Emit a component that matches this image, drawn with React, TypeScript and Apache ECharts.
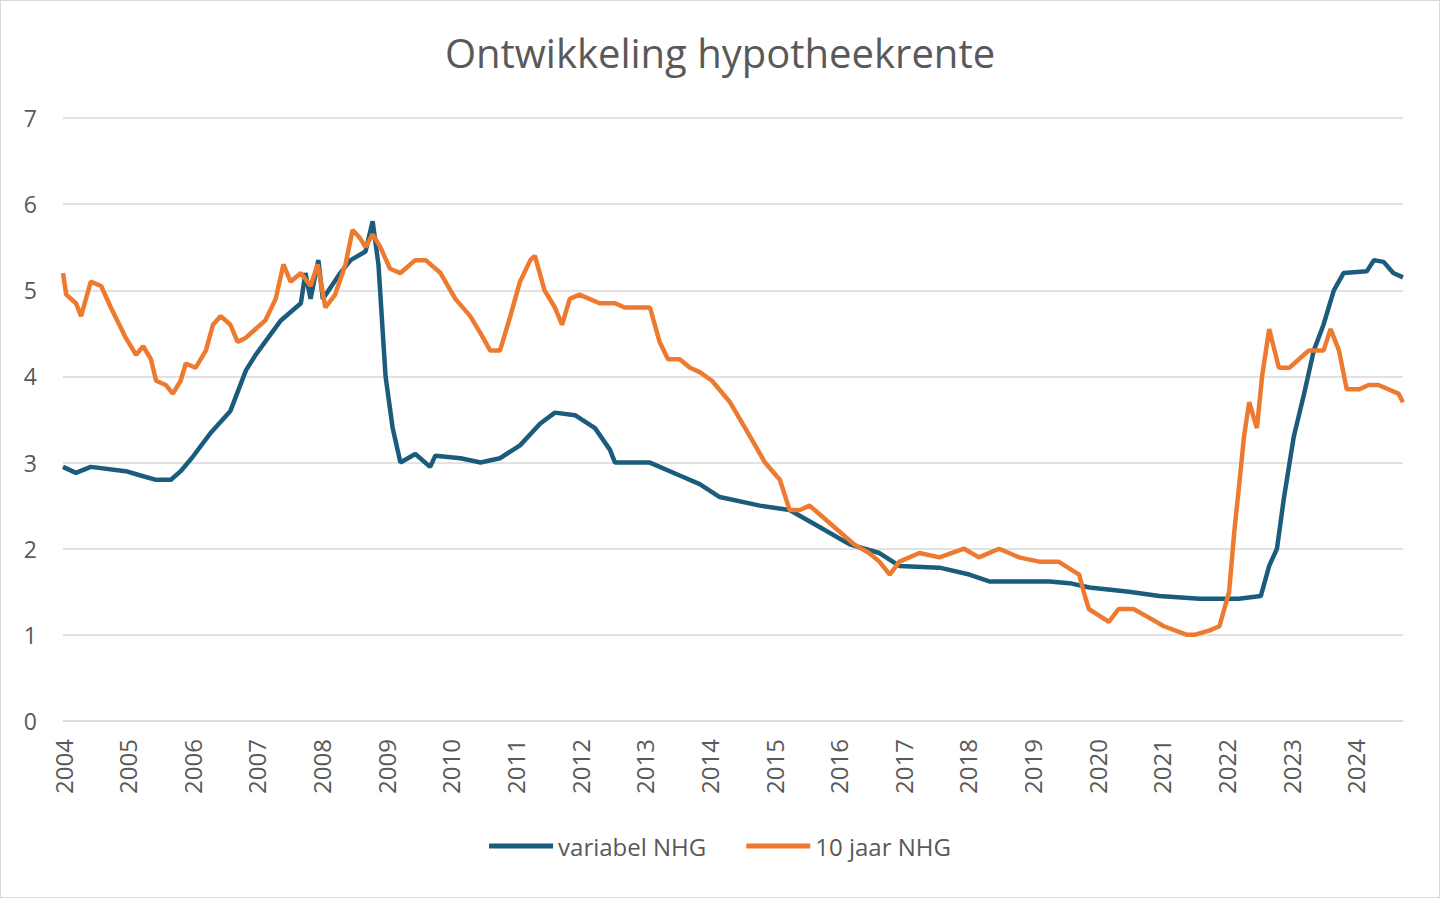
import React, { useEffect, useRef } from 'react';
import * as echarts from 'echarts';

const title = 'Ontwikkeling hypotheekrente';
const yearTicks = [2004, 2005, 2006, 2007, 2008, 2009, 2010, 2011, 2012, 2013, 2014, 2015, 2016, 2017, 2018, 2019, 2020, 2021, 2022, 2023, 2024];

const variabelYears = [2004.0, 2004.2, 2004.43, 2004.97, 2005.2, 2005.44, 2005.67, 2005.82, 2005.99, 2006.29, 2006.59, 2006.83, 2006.98, 2007.37, 2007.68, 2007.75, 2007.83, 2007.95, 2008.02, 2008.29, 2008.45, 2008.68, 2008.79, 2008.88, 2008.99, 2009.1, 2009.22, 2009.45, 2009.68, 2009.76, 2010.15, 2010.46, 2010.76, 2011.07, 2011.38, 2011.61, 2011.92, 2012.23, 2012.46, 2012.54, 2013.08, 2013.54, 2013.85, 2014.16, 2014.78, 2015.24, 2015.71, 2016.17, 2016.63, 2016.94, 2017.56, 2018.02, 2018.33, 2019.26, 2019.57, 2019.88, 2020.49, 2020.96, 2021.58, 2022.19, 2022.53, 2022.66, 2022.78, 2022.89, 2023.04, 2023.2, 2023.35, 2023.5, 2023.66, 2023.81, 2024.17, 2024.28, 2024.43, 2024.58, 2024.73];
const variabelValues = [2.95, 2.88, 2.95, 2.9, 2.85, 2.8, 2.8, 2.9, 3.05, 3.35, 3.6, 4.07, 4.25, 4.65, 4.85, 5.2, 4.9, 5.35, 4.9, 5.2, 5.35, 5.45, 5.8, 5.3, 4.0, 3.4, 3.0, 3.1, 2.95, 3.08, 3.05, 3.0, 3.05, 3.2, 3.45, 3.58, 3.55, 3.4, 3.15, 3.0, 3.0, 2.85, 2.75, 2.6, 2.5, 2.45, 2.25, 2.05, 1.95, 1.8, 1.78, 1.7, 1.62, 1.62, 1.6, 1.55, 1.5, 1.45, 1.42, 1.42, 1.45, 1.8, 2.0, 2.6, 3.3, 3.8, 4.3, 4.6, 5.0, 5.2, 5.22, 5.35, 5.33, 5.2, 5.15];

const tienJaarYears = [2004.0, 2004.05, 2004.2, 2004.28, 2004.43, 2004.59, 2004.74, 2004.97, 2005.13, 2005.24, 2005.36, 2005.44, 2005.59, 2005.7, 2005.82, 2005.9, 2006.05, 2006.21, 2006.32, 2006.44, 2006.59, 2006.7, 2006.83, 2006.98, 2007.13, 2007.29, 2007.41, 2007.52, 2007.68, 2007.83, 2007.94, 2008.06, 2008.21, 2008.37, 2008.48, 2008.6, 2008.68, 2008.79, 2008.91, 2009.06, 2009.22, 2009.45, 2009.61, 2009.84, 2010.07, 2010.3, 2010.46, 2010.61, 2010.76, 2010.92, 2011.07, 2011.23, 2011.3, 2011.45, 2011.61, 2011.72, 2011.84, 2011.99, 2012.3, 2012.54, 2012.69, 2013.08, 2013.23, 2013.36, 2013.54, 2013.7, 2013.85, 2014.04, 2014.32, 2014.63, 2014.86, 2015.09, 2015.24, 2015.4, 2015.55, 2015.78, 2016.01, 2016.24, 2016.47, 2016.63, 2016.79, 2016.94, 2017.25, 2017.56, 2017.94, 2018.17, 2018.48, 2018.79, 2019.1, 2019.4, 2019.72, 2019.79, 2019.87, 2020.18, 2020.33, 2020.56, 2020.8, 2021.03, 2021.39, 2021.5, 2021.73, 2021.89, 2022.04, 2022.12, 2022.19, 2022.27, 2022.35, 2022.47, 2022.55, 2022.66, 2022.81, 2022.97, 2023.12, 2023.27, 2023.5, 2023.61, 2023.74, 2023.86, 2024.05, 2024.2, 2024.35, 2024.66, 2024.73];
const tienJaarValues = [5.2, 4.95, 4.85, 4.7, 5.1, 5.05, 4.8, 4.45, 4.25, 4.35, 4.2, 3.95, 3.9, 3.8, 3.95, 4.15, 4.1, 4.3, 4.6, 4.7, 4.6, 4.4, 4.45, 4.55, 4.65, 4.9, 5.3, 5.1, 5.2, 5.05, 5.3, 4.8, 4.95, 5.3, 5.7, 5.6, 5.5, 5.65, 5.5, 5.25, 5.2, 5.35, 5.35, 5.2, 4.9, 4.7, 4.5, 4.3, 4.3, 4.7, 5.1, 5.35, 5.4, 5.0, 4.8, 4.6, 4.9, 4.95, 4.85, 4.85, 4.8, 4.8, 4.4, 4.2, 4.2, 4.1, 4.05, 3.95, 3.7, 3.3, 3.0, 2.8, 2.45, 2.45, 2.5, 2.35, 2.2, 2.05, 1.95, 1.85, 1.7, 1.85, 1.95, 1.9, 2.0, 1.9, 2.0, 1.9, 1.85, 1.85, 1.7, 1.5, 1.3, 1.15, 1.3, 1.3, 1.2, 1.1, 1.0, 1.0, 1.05, 1.1, 1.5, 2.2, 2.7, 3.3, 3.7, 3.4, 4.0, 4.55, 4.1, 4.1, 4.2, 4.3, 4.3, 4.55, 4.3, 3.85, 3.85, 3.9, 3.9, 3.8, 3.7];

const pairs = (xs: number[], ys: number[]) => xs.map((x, i) => [x, ys[i]]);

export default function App() {
  const ref = useRef<HTMLDivElement>(null);

  useEffect(() => {
    if (!ref.current) return;
    const chart = echarts.init(ref.current, null, { renderer: 'svg' });
    chart.setOption({
      animation: false,
      textStyle: { fontFamily: 'Open Sans, sans-serif', color: '#595959' },
      title: {
        text: title,
        left: 'center',
        top: 26,
        textStyle: { fontSize: 40, fontWeight: 'normal', color: '#595959', fontFamily: 'Open Sans, sans-serif' },
      },
      legend: {
        bottom: 34,
        left: 'center',
        itemWidth: 64,
        itemHeight: 5,
        itemGap: 40,
        icon: 'rect',
        textStyle: { fontSize: 24, color: '#595959' },
        data: ['variabel NHG', '10 jaar NHG'],
      },
      grid: { left: 62, right: 36, top: 117, bottom: 176 },
      xAxis: {
        type: 'value',
        min: 2004,
        max: 2024.73,
        interval: 1,
        axisLine: { lineStyle: { color: '#d9d9d9' } },
        axisTick: { show: false },
        splitLine: { show: false },
        axisLabel: {
          rotate: 90,
          fontSize: 24,
          color: '#595959',
          margin: 18,
          showMaxLabel: false,
          formatter: (v: number) => (yearTicks.includes(v) ? String(v) : ''),
        },
      },
      yAxis: {
        type: 'value',
        min: 0,
        max: 7,
        interval: 1,
        axisLine: { show: false },
        axisTick: { show: false },
        splitLine: { lineStyle: { color: '#d9d9d9', width: 1.5 } },
        axisLabel: { fontSize: 23, color: '#595959', margin: 26 },
      },
      series: [
        {
          name: 'variabel NHG',
          type: 'line',
          symbol: 'none',
          lineStyle: { width: 4.5, color: '#1b5c7c' },
          itemStyle: { color: '#1b5c7c' },
          data: pairs(variabelYears, variabelValues),
        },
        {
          name: '10 jaar NHG',
          type: 'line',
          symbol: 'none',
          lineStyle: { width: 4.5, color: '#ee7a30' },
          itemStyle: { color: '#ee7a30' },
          data: pairs(tienJaarYears, tienJaarValues),
        },
      ],
    });
    return () => chart.dispose();
  }, []);

  return (
    <div
      ref={ref}
      style={{ position: 'fixed', left: 0, top: 0, width: 1440, height: 898, background: '#fff', border: '1px solid #d9d9d9', boxSizing: 'border-box' }}
    />
  );
}
